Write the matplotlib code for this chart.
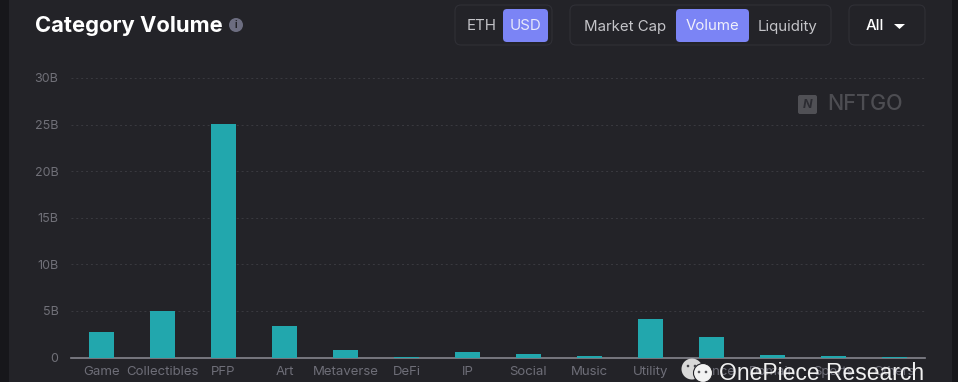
import matplotlib
matplotlib.use("Agg")
from matplotlib import pyplot as plt
from matplotlib.patches import FancyBboxPatch, Rectangle, Circle, Polygon

categories = ["Game", "Collectibles", "PFP", "Art", "Metaverse", "DeFi", "IP", "Social",
              "Music", "Utility", "Finance", "Domain", "Sports", "Others"]
volume_b = [2.7, 5.0, 25.1, 3.4, 0.8, 0.04, 0.55, 0.4, 0.13, 4.1, 2.2, 0.25, 0.18, 0.03]
y_ticks = [0, 5, 10, 15, 20, 25, 30]
y_labels = ["0", "5B", "10B", "15B", "20B", "25B", "30B"]
W, H = 958, 382
BG = "#232328"
FONT = ["Inter", "DejaVu Sans"]


def box(fig_ax, x, y, w, h, fc, ec, r=6, lw=0.8):
    fig_ax.add_patch(FancyBboxPatch((x + r, y + r), w - 2 * r, h - 2 * r,
                                    boxstyle=f"round,pad={r},rounding_size={r}",
                                    fc=fc, ec=ec, lw=lw))


def main():
    plt.rcParams["font.family"] = FONT
    fig = plt.figure(figsize=(W / 100, H / 100), dpi=100, facecolor=BG)

    # pixel overlay for the page furniture
    bg = fig.add_axes([0, 0, 1, 1])
    bg.set_xlim(0, W)
    bg.set_ylim(H, 0)
    bg.axis("off")
    bg.add_patch(Rectangle((0, 0), 9, H, fc="#17171b", ec="none"))
    bg.add_patch(Rectangle((952, 0), 6, H, fc="#17171b", ec="none"))

    bg.text(35, 32, "Category Volume", color="white", fontsize=15.8, fontweight="bold", va="baseline")
    bg.add_patch(Circle((236, 25), 7, fc="#6c6d80", ec="none"))
    bg.text(236, 25, "i", color=BG, fontsize=7, fontweight="bold", ha="center", va="center")

    border = "#303036"
    box(bg, 455, 5, 97, 40, "none", border)
    box(bg, 570, 5, 261, 40, "none", border)
    box(bg, 849, 5, 76, 40, "none", border)
    box(bg, 503, 9, 45, 33, "#7b84f5", "none", r=4)
    box(bg, 676, 9, 73, 33, "#7b84f5", "none", r=4)
    for x, s, c in [(481.5, "ETH", "#c4c4c8"), (525.5, "USD", "#e8e9fb"),
                    (625.5, "Market Cap", "#c4c4c8"), (713, "Volume", "#f0f0fb"),
                    (788, "Liquidity", "#c4c4c8")]:
        bg.text(x, 30.5, s, color=c, fontsize=10.8, ha="center", va="baseline")
    bg.text(874.5, 30.5, "All", color="white", fontsize=10.8, fontweight="medium", ha="center", va="baseline")
    bg.add_patch(Polygon([(894, 24), (905, 24), (899.5, 29)], fc="white", ec="none"))

    # chart
    ax = fig.add_axes([71 / W, 1 - 357.5 / H, 854 / W, 279.5 / H], facecolor="none")
    ax.bar(range(len(categories)), volume_b, width=0.41, color="#22a7ad", zorder=3)
    ax.set_xlim(-0.5, len(categories) - 0.5)
    ax.set_ylim(0, 30)
    ax.set_yticks(y_ticks)
    ax.set_yticklabels(y_labels, color="#707078", fontsize=9)
    ax.set_xticks(range(len(categories)))
    ax.set_xticklabels(categories, color="#6e6e78", fontsize=9.5)
    ax.tick_params(length=0)
    ax.tick_params(axis="x", pad=6)
    ax.tick_params(axis="y", pad=9)
    ax.grid(axis="y", color="#3a3a40", lw=0.7, ls=(0, (2, 3)), zorder=0)
    ax.set_axisbelow(True)
    for s in ["top", "right", "left"]:
        ax.spines[s].set_visible(False)
    ax.spines["bottom"].set_color("#85858e")
    ax.spines["bottom"].set_linewidth(1.2)

    # watermarks on top
    top = fig.add_axes([0, 0, 1, 1], facecolor="none")
    top.set_xlim(0, W)
    top.set_ylim(H, 0)
    top.axis("off")
    box(top, 798, 95, 19, 19, "#505055", "none", r=2)
    top.text(807.5, 104.5, "N", color="#2c2c32", fontsize=9, fontweight="bold", style="italic",
             ha="center", va="center")
    top.text(865.5, 110, "NFTGO", color="#4d4d52", fontsize=15.5, fontweight="medium",
             ha="center", va="baseline")

    # wechat logo
    top.add_patch(Circle((692, 369), 10.5, fc="#d8d8d8", ec="none"))
    top.add_patch(Circle((703, 373), 9.5, fc="#f2f2f2", ec=BG, lw=0.8))
    for ex, ey, c in [(688, 366, "#444449"), (695, 366, "#444449"),
                      (699, 372, "#555559"), (706, 372, "#555559")]:
        top.add_patch(Circle((ex, ey), 1.3, fc=c, ec="none"))
    top.text(719, 380, "OnePiece Research", color="#f0f0f0", fontsize=16.5, va="baseline",
             family=["Liberation Sans", "DejaVu Sans"])

    fig.savefig("out.png", dpi=100, facecolor=BG)


if __name__ == "__main__":
    main()
